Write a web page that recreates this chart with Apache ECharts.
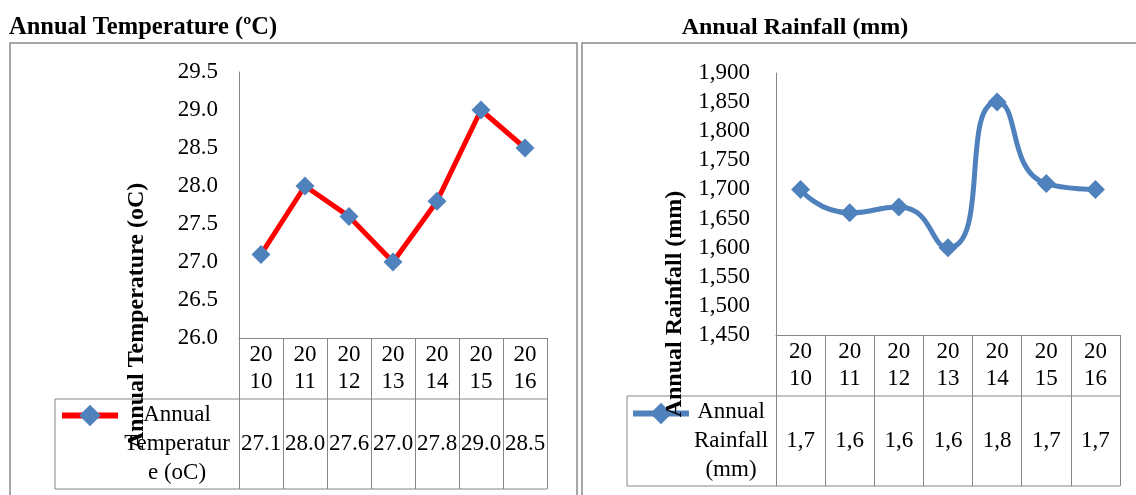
<!DOCTYPE html>
<html>
<head>
<meta charset="utf-8">
<script src="https://cdn.jsdelivr.net/npm/echarts@6/dist/echarts.min.js"></script>
<style>
  html, body { margin: 0; padding: 0; background: #fff; }
  #chart { width: 1136px; height: 495px; }
</style>
</head>
<body>
<div id="chart"></div>
<script>
// data
const years = ["2010", "2011", "2012", "2013", "2014", "2015", "2016"];
const temperature = [27.1, 28.0, 27.6, 27.0, 27.8, 29.0, 28.5];
const rainfall = [1700, 1660, 1670, 1600, 1850, 1710, 1700];
const tempName = "Annual Temperature (oC)";
const rainName = "Annual Rainfall (mm)";

const font = "Liberation Serif";
const gray = "#868686";
const blue = "#4F81BD";

// layout of the two panels (plot + data table below it)
const panels = [
  { left: 239, top: 72, width: 308, height: 266, legendLeft: 55, rowH: 61, tableH: 151 },
  { left: 776, top: 73, width: 344, height: 262, legendLeft: 627, rowH: 61, tableH: 151 }
];

const chart = echarts.init(document.getElementById("chart"));

function tableLines(p) {
  const bottom = p.top + p.height;
  const right = p.left + p.width;
  const st = { stroke: gray, lineWidth: 1 };
  return [
    { type: "line", shape: { x1: p.legendLeft, y1: bottom + p.rowH, x2: right, y2: bottom + p.rowH }, style: st },
    { type: "line", shape: { x1: p.legendLeft, y1: bottom + p.tableH, x2: right, y2: bottom + p.tableH }, style: st },
    { type: "line", shape: { x1: p.legendLeft, y1: bottom + p.rowH, x2: p.legendLeft, y2: bottom + p.tableH }, style: st }
  ];
}

function yearAxis(gridIndex) {
  return {
    type: "category",
    gridIndex: gridIndex,
    data: years,
    position: "bottom",
    axisLine: { lineStyle: { color: gray, width: 1 } },
    axisTick: { show: true, interval: 0, length: 151, lineStyle: { color: gray, width: 1 } },
    axisLabel: {
      interval: 0, margin: 3.5, color: "#000", fontFamily: font, fontSize: 23, lineHeight: 27,
      formatter: y => y.slice(0, 2) + "\n" + y.slice(2)
    }
  };
}

function valueRowAxis(gridIndex, labels, extra) {
  return {
    type: "category",
    gridIndex: gridIndex,
    data: labels,
    position: "bottom",
    axisLine: { show: false },
    axisTick: { show: false },
    axisLabel: Object.assign({
      interval: 0, margin: 92, color: "#000", fontFamily: font, fontSize: 23, lineHeight: 28
    }, extra)
  };
}

function valueAxis(gridIndex, min, max, interval, fmt, margin) {
  return {
    type: "value",
    gridIndex: gridIndex,
    min: min, max: max, interval: interval,
    axisLine: { show: true, lineStyle: { color: gray, width: 1 } },
    axisTick: { show: false },
    splitLine: { show: false },
    axisLabel: { color: "#000", fontFamily: font, fontSize: 23, margin: margin, formatter: fmt }
  };
}

const option = {
  animation: false,
  grid: panels.map(p => ({ left: p.left, top: p.top, width: p.width, height: p.height })),
  xAxis: [
    yearAxis(0),
    valueRowAxis(0, temperature.map(v => v.toFixed(1)), {}),
    yearAxis(1),
    valueRowAxis(1, rainfall.map(v => v.toLocaleString("en-US")), { width: 38, overflow: "truncate", ellipsis: "" })
  ],
  yAxis: [
    valueAxis(0, 26, 29.5, 0.5, v => v.toFixed(1), 21),
    valueAxis(1, 1450, 1900, 50, v => v.toLocaleString("en-US"), 26)
  ],
  legend: [
    {
      data: [tempName], left: 59, top: 402, padding: 0, itemWidth: 56, itemHeight: 27,
      lineStyle: { width: 6 },
      formatter: () => "", selectedMode: false
    },
    {
      data: [rainName], left: 630, top: 400, padding: 0, itemWidth: 56, itemHeight: 27,
      lineStyle: { width: 6 },
      formatter: () => "", selectedMode: false
    }
  ],
  series: [
    {
      name: tempName, type: "line", xAxisIndex: 0, yAxisIndex: 0, data: temperature,
      symbol: "diamond", symbolSize: 19,
      lineStyle: { color: "#FF0000", width: 5 },
      itemStyle: { color: blue }
    },
    {
      name: rainName, type: "line", xAxisIndex: 2, yAxisIndex: 1, data: rainfall,
      smooth: 0.6, symbol: "diamond", symbolSize: 19,
      lineStyle: { color: blue, width: 5 },
      itemStyle: { color: blue }
    }
  ],
  graphic: [
    { type: "rect", shape: { x: 10, y: 43, width: 567, height: 470 }, style: { fill: null, stroke: "#8a8a8a", lineWidth: 1.5 }, z: -1 },
    { type: "rect", shape: { x: 582, y: 43, width: 600, height: 470 }, style: { fill: null, stroke: "#8a8a8a", lineWidth: 1.5 }, z: -1 },
    { type: "text", x: 9, y: 28, style: { text: "Annual Temperature (ºC)", font: "bold 24.5px " + font, fill: "#000", textVerticalAlign: "middle" } },
    { type: "text", x: 795, y: 28, style: { text: "Annual Rainfall (mm)", font: "bold 24px " + font, fill: "#000", textAlign: "center", textVerticalAlign: "middle" } },
    { type: "text", x: 177, y: 444, style: { text: "Annual\nTemperatur\ne (oC)", font: "23px " + font, lineHeight: 29, fill: "#000", textAlign: "center", textVerticalAlign: "middle" } },
    { type: "text", x: 731, y: 441, style: { text: "Annual\nRainfall\n(mm)", font: "23px " + font, lineHeight: 29, fill: "#000", textAlign: "center", textVerticalAlign: "middle" } },
    { type: "text", x: 137, y: 316, rotation: Math.PI / 2, z: 10, style: { text: tempName, font: "bold 24px " + font, fill: "#000", textAlign: "center", textVerticalAlign: "middle" } },
    { type: "text", x: 675, y: 304, rotation: Math.PI / 2, z: 10, style: { text: rainName, font: "bold 24px " + font, fill: "#000", textAlign: "center", textVerticalAlign: "middle" } }
  ].concat(tableLines(panels[0]), tableLines(panels[1]))
};

chart.setOption(option);
</script>
</body>
</html>
